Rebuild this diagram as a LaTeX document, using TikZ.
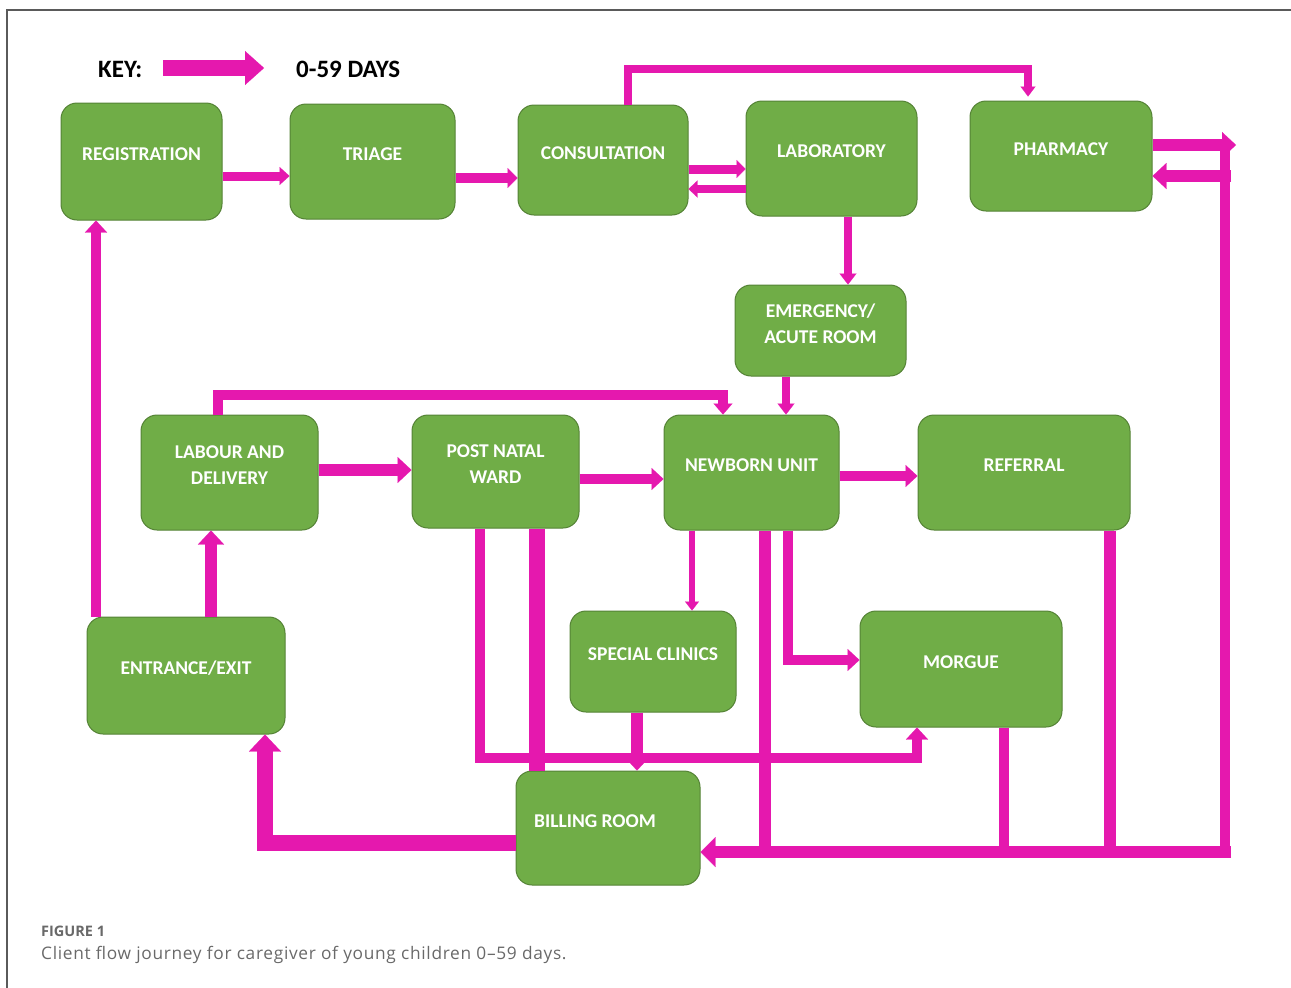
\documentclass[tikz,border=0pt]{standalone}
\usepackage{fontspec}
\setmainfont{Carlito}
\newfontfamily\capfont[LetterSpace=4]{Open Sans}
\newfontfamily\figfont{Open Sans}
\usetikzlibrary{arrows.meta}
\definecolor{mg}{RGB}{229,24,174}
\definecolor{gfill}{RGB}{112,173,71}
\definecolor{gline}{RGB}{84,130,53}
\definecolor{capgray}{RGB}{105,105,105}
\definecolor{framegray}{RGB}{90,90,90}
\begin{document}
\begin{tikzpicture}[x=1pt,y=-1pt,
  box/.style={draw=gline, line width=1pt, fill=gfill, rounded corners=16pt, inner sep=0pt},
  lbl/.style={text=white, font=\bfseries\fontsize{19.5}{26}\selectfont, align=center, yshift=7pt, inner sep=0pt},
  flow/.style={draw=mg, line width=#1pt},
  bh/.style 2 args={arrows={-Triangle[width=#1pt,length=#2pt,line width=0.1pt]}},
  keytxt/.style={font=\bfseries\fontsize{25}{29}\selectfont, anchor=base west, inner sep=0pt}
]
\useasboundingbox (0,0) rectangle (1291,988);
\draw[framegray, line width=1.3pt] (7,988) -- (7,10) -- (1291,10);

% key
\node[keytxt] (keylbl) at (98,77) {KEY:};
\node[keytxt] (keyval) at (296,77) {0-59 DAYS};
\coordinate (keyA) at (163,68);
\coordinate (keyB) at (264,68);
\draw[flow=16, bh={34}{19}] (keyA) -- (keyB);

% boxes
\node[box, minimum width=161pt, minimum height=117pt, label={[lbl]center:REGISTRATION}] (reg) at (141.5,161.5) {};
\node[box, minimum width=165pt, minimum height=115pt, label={[lbl]center:TRIAGE}] (tri) at (372.5,161.5) {};
\node[box, minimum width=170pt, minimum height=110pt, label={[lbl]center:CONSULTATION}] (con) at (603,160) {};
\node[box, minimum width=171pt, minimum height=115pt, label={[lbl]center:LABORATORY}] (lab) at (831.5,158.5) {};
\node[box, minimum width=182pt, minimum height=110pt, label={[lbl]center:PHARMACY}] (pha) at (1061,156) {};
\node[box, minimum width=171pt, minimum height=91pt, label={[lbl]center:{EMERGENCY/\\ACUTE ROOM}}] (eme) at (820.5,330.5) {};
\node[box, minimum width=177pt, minimum height=115pt, label={[lbl]center:{LABOUR AND\\DELIVERY}}] (lad) at (229.5,472.5) {};
\node[box, minimum width=167pt, minimum height=113pt, label={[lbl]center:{POST NATAL\\WARD}}] (pnw) at (495.5,471.5) {};
\node[box, minimum width=175pt, minimum height=115pt, label={[lbl]center:NEWBORN UNIT}] (nbu) at (751.5,472.5) {};
\node[box, minimum width=212pt, minimum height=115pt, label={[lbl]center:REFERRAL}] (ref) at (1024,472.5) {};
\node[box, minimum width=198pt, minimum height=117pt, label={[lbl]center:ENTRANCE/EXIT}] (ent) at (186,675.5) {};
\node[box, minimum width=166pt, minimum height=101pt, label={[lbl]center:SPECIAL CLINICS}] (spc) at (653,661.5) {};
\node[box, minimum width=202pt, minimum height=116pt, label={[lbl]center:MORGUE}] (mor) at (961,669) {};
\node[box, minimum width=184pt, minimum height=114pt, label={[lbl,xshift=-13pt]center:BILLING ROOM}] (bil) at (608,828) {};

% free ends of the right-hand loop and the bottom return line
\coordinate (rtop) at (1236,145);
\coordinate (rret) at (1231,176);
\coordinate (rv1) at (1225,150);
\coordinate (rv2) at (1225,858);
\coordinate (rbot) at (1231,852);
\coordinate (nbb) at (765,858);
\coordinate (mbb) at (1004,858);
\coordinate (rfb) at (1110,858);

% connectors
\draw[flow=9, bh={18}{10}] ([yshift=-14.5pt]reg.east) -- ([yshift=-14.5pt]reg.east -| tri.west);
\draw[flow=10, bh={20}{10}] ([yshift=-16.5pt]tri.east) -- ([yshift=-16.5pt]tri.east -| con.west);
\draw[flow=9, bh={18}{9}] ([yshift=-9pt]con.east) -- ([yshift=-9pt]con.east -| lab.west);
\draw[flow=8, bh={17}{9}] ([yshift=-30.5pt]lab.west) -- ([yshift=-30.5pt]lab.west -| con.east);
\draw[flow=8, bh={15}{10}] ([xshift=25pt]con.north) |- ([xshift=-33pt,yshift=32pt]pha.north) -- ([xshift=-33pt,yshift=4pt]pha.north);
\draw[flow=12, bh={26}{14}] ([yshift=11pt]pha.east) -- (rtop);
\draw[flow=12, bh={26}{14}] (rret) -- (rret -| pha.east);
\draw[flow=10] (rv1) -- (rv2);
\draw[flow=12, bh={30}{15}] (rbot) -- ([yshift=-24pt]bil.east);
\draw[flow=12] ([xshift=13.5pt]nbu.south) -- (nbb);
\draw[flow=10] ([xshift=43pt]mor.south) -- (mbb);
\draw[flow=12] ([xshift=86pt]ref.south) -- (rfb);
\draw[flow=8, bh={17}{11}] ([xshift=16.5pt]lab.south) -- ([xshift=16.5pt]lab.south |- eme.north);
\draw[flow=8, bh={17}{11}] ([xshift=-34.5pt]eme.south) -- ([xshift=-34.5pt]eme.south |- nbu.north);
\draw[flow=10, bh={19}{11}] ([xshift=-11.5pt]lad.north) |- ([xshift=-28.5pt,yshift=20pt]nbu.north) -- ([xshift=-28.5pt]nbu.north);
\draw[flow=12, bh={26}{14}] ([yshift=2.5pt]lad.east) -- ([yshift=2.5pt]lad.east -| pnw.west);
\draw[flow=10, bh={22}{12}] ([yshift=-7.5pt]pnw.east) -- ([yshift=-7.5pt]pnw.east -| nbu.west);
\draw[flow=10, bh={22}{12}] ([yshift=-3.5pt]nbu.east) -- ([yshift=-3.5pt]nbu.east -| ref.west);
\draw[flow=12, bh={26}{14}] ([xshift=25pt]ent.north) -- ([xshift=25pt]ent.north |- lad.south);
\draw[flow=10, bh={22}{12}] ([xshift=-90pt]ent.north) -- ([xshift=-90pt]ent.north |- reg.south);
\draw[flow=6, bh={14}{9}] ([xshift=-59.5pt]nbu.south) -- ([xshift=-59.5pt]nbu.south |- spc.north);
\draw[flow=10, bh={22}{12}] ([xshift=36.5pt]nbu.south) |- ([yshift=9pt]mor.west);
\draw[flow=10, bh={22}{12}] ([xshift=-15.5pt]pnw.south) |- ([xshift=-44pt,yshift=-30pt]mor.south) -- ([xshift=-44pt]mor.south);
\draw[flow=16] ([xshift=41.5pt]pnw.south) -- ([xshift=41.5pt]pnw.south |- bil.north);
\draw[flow=12, bh={26}{14}] ([xshift=-16pt]spc.south) -- ([xshift=-16pt]spc.south |- bil.north);
\draw[flow=16, bh={32}{17}] ([yshift=-15pt]bil.west) -| ([xshift=79pt]ent.south);

% caption
\node[anchor=base west, inner sep=0pt, font=\figfont\bfseries\fontsize{14.5}{17}\selectfont, text=capgray] (fig) at (41,936) {FIGURE 1};
\node[anchor=base west, inner sep=0pt, font=\capfont\fontsize{17.3}{20}\selectfont, text=capgray] (cap) at (41,959) {Client flow journey for caregiver of young children 0–59 days.};
\end{tikzpicture}
\end{document}
